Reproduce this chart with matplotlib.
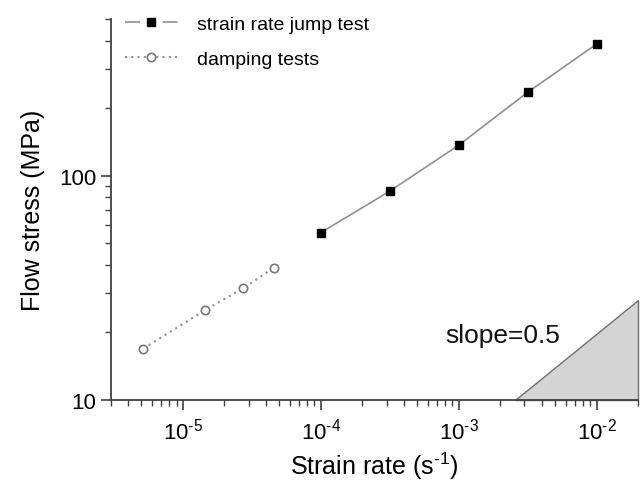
import numpy as np
import matplotlib
matplotlib.use("Agg")
import matplotlib.pyplot as plt
from matplotlib.lines import Line2D
from matplotlib.legend_handler import HandlerTuple
from matplotlib.ticker import FixedLocator, NullFormatter, LogLocator, FuncFormatter

plt.rcParams['font.family'] = ['Liberation Sans', 'DejaVu Sans']
plt.rcParams['mathtext.fontset'] = 'custom'
plt.rcParams['mathtext.rm'] = 'Liberation Sans'
plt.rcParams['mathtext.it'] = 'Liberation Sans:italic'
plt.rcParams['mathtext.default'] = 'regular'

HY = '\u2010'  # short hyphen, like the reference's exponents

# data
jump_rate = [1e-4, 3.16e-4, 1e-3, 3.16e-3, 1e-2]
jump_stress = [55.6, 85.1, 136.5, 235, 386]
damp_rate = [5.18e-6, 1.45e-5, 2.75e-5, 4.59e-5]
damp_stress = [16.9, 25.1, 31.4, 38.8]

# slope triangle
tri_x0 = 2.58e-3
tri_x1 = 2e-2
tri_slope = 0.5
tri_y0 = 10

fig = plt.figure(figsize=(6.4, 4.85), dpi=100)
ax = fig.add_axes([0.173, 0.174, 0.824, 0.785])

spine_c = '#404040'
ax.plot(jump_rate, jump_stress, color='#909090', lw=1.2, zorder=2)
ax.plot(jump_rate, jump_stress, ls='none', marker='s', ms=6, mfc='black', mec='black', zorder=3)
ax.plot(damp_rate, damp_stress, color='#909090', lw=1.5, ls=(0, (1, 2)), zorder=2)
ax.plot(damp_rate, damp_stress, ls='none', marker='o', ms=6, mfc='white', mec='#777777', mew=1.2, zorder=3)

tri_y1 = tri_y0 * (tri_x1 / tri_x0) ** tri_slope
ax.fill([tri_x0, tri_x1, tri_x1], [tri_y0, tri_y0, tri_y1], facecolor='#d4d4d4',
        edgecolor='#707070', lw=1.0, zorder=1, clip_on=False)
ax.text(8.0e-4, 19.4, 'slope=0.5', fontsize=19, ha='left', va='center', color='#111111')

ax.set_xscale('log')
ax.set_yscale('log')
ax.set_xlim(3e-6, 2e-2)
ax.set_ylim(10, 500)

ax.xaxis.set_major_locator(FixedLocator([1e-5, 1e-4, 1e-3, 1e-2]))
ax.xaxis.set_minor_locator(LogLocator(base=10, subs=np.arange(2, 10)))
ax.xaxis.set_major_formatter(FuncFormatter(lambda v, p: '$10^{' + HY + '%d}$' % abs(round(np.log10(v)))))
ax.xaxis.set_minor_formatter(NullFormatter())
ax.yaxis.set_major_locator(FixedLocator([10, 100]))
ax.yaxis.set_minor_locator(LogLocator(base=10, subs=np.arange(2, 10)))
ax.yaxis.set_major_formatter(FuncFormatter(lambda v, p: '%d' % v))
ax.yaxis.set_minor_formatter(NullFormatter())

for s in ['top', 'right']:
    ax.spines[s].set_visible(False)
for s in ['left', 'bottom']:
    ax.spines[s].set_color(spine_c)
    ax.spines[s].set_linewidth(1.3)
ax.tick_params(which='major', length=7, width=1.2, color=spine_c, labelsize=16, direction='out')
ax.tick_params(which='minor', length=4, width=1.0, color=spine_c, direction='out')
ax.tick_params(axis='x', pad=6)

ax.set_xlabel('Strain rate (s$^{' + HY + '1}$)', fontsize=18, labelpad=4)
ax.set_ylabel('Flow stress (MPa)', fontsize=18, labelpad=10)

# legend with gaps around markers
h1 = (Line2D([], [], color='#909090', lw=1.2, ls=(0, (9, 13.6, 9))),
      Line2D([], [], ls='none', marker='s', ms=6, mfc='black', mec='black'))
h2 = (Line2D([], [], color='#909090', lw=1.5, ls=(0, (1, 2))),
      Line2D([], [], ls='none', marker='o', ms=6, mfc='white', mec='#777777', mew=1.2))
fig.legend([h1, h2], ['strain rate jump test', 'damping tests'],
           handler_map={tuple: HandlerTuple(ndivide=1)},
           loc='upper left', bbox_to_anchor=(125 / 640, 1 - 16 / 485),
           frameon=False, fontsize=14, handlelength=2.7, handletextpad=1.0,
           labelspacing=0.9, borderpad=0, borderaxespad=0)

fig.savefig('out.png', dpi=100)
